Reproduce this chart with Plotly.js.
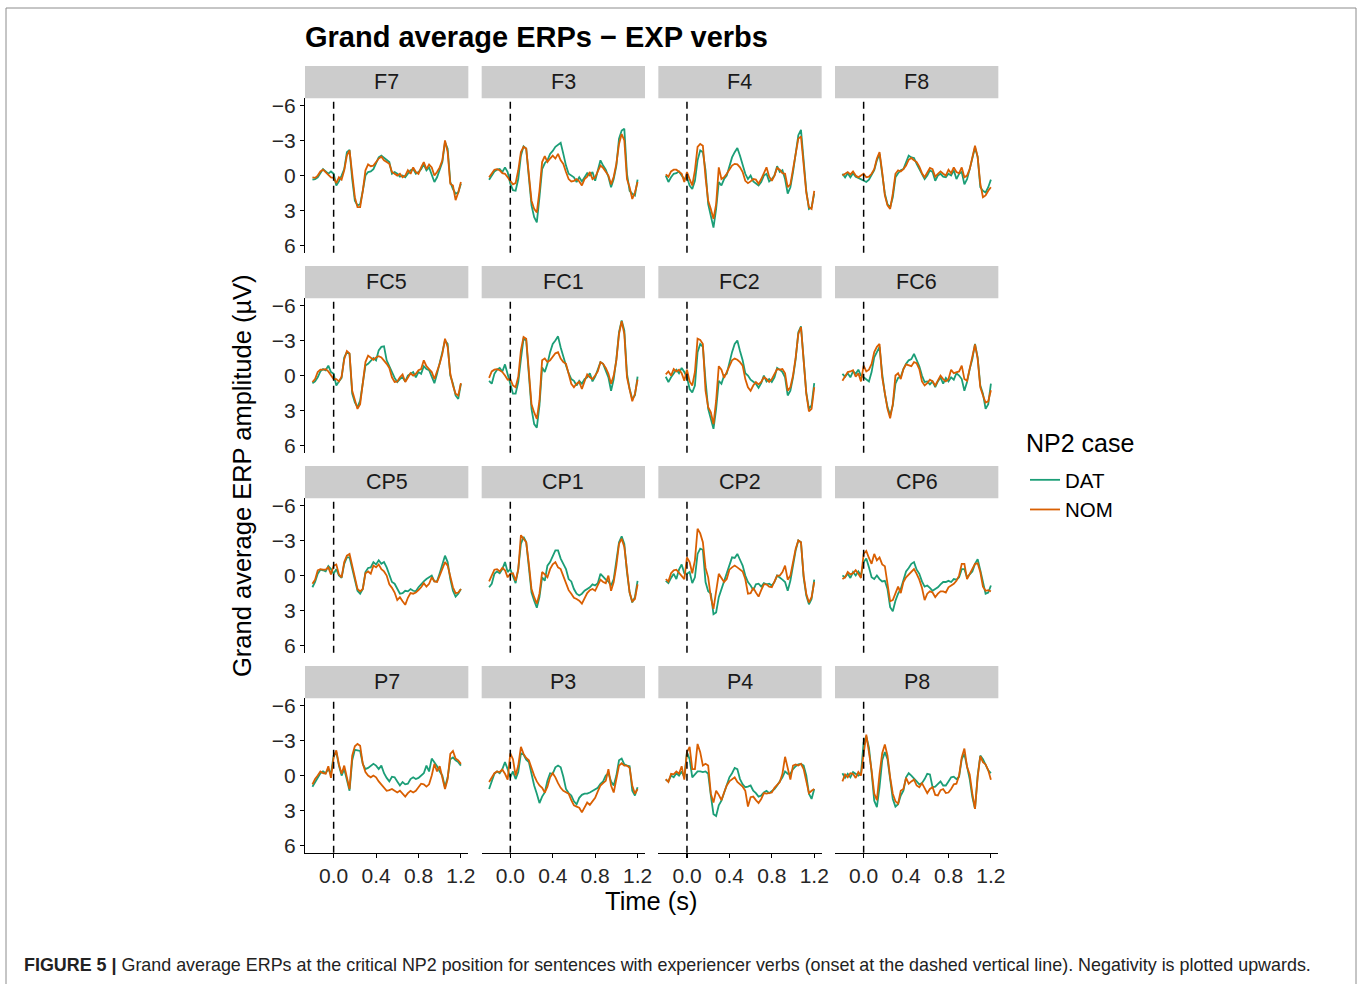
<!DOCTYPE html>
<html>
<head>
<meta charset="utf-8">
<script src="https://cdn.plot.ly/plotly-3.0.1.min.js"></script>
<style>html,body{margin:0;padding:0;background:#fff;}#chart{width:1358px;height:984px;}</style>
</head>
<body>
<div id="chart"></div>
<script>
// ---------------- DATA ----------------
const channels = ["F7","F3","F4","F8","FC5","FC1","FC2","FC6","CP5","CP1","CP2","CP6","P7","P3","P4","P8"];
const seriesNames = ["DAT","NOM"];
const legendTitle = "NP2 case";
const onset = 0;
const time = [-0.2,-0.175,-0.15,-0.125,-0.1,-0.075,-0.05,-0.025,0,0.025,0.05,0.075,0.1,0.125,0.15,0.175,0.2,0.225,0.25,0.275,0.3,0.325,0.35,0.375,0.4,0.425,0.45,0.475,0.5,0.525,0.55,0.575,0.6,0.625,0.65,0.675,0.7,0.725,0.75,0.775,0.8,0.825,0.85,0.875,0.9,0.925,0.95,0.975,1,1.025,1.05,1.075,1.1,1.125,1.15,1.175,1.2];
const yTickVals = [-6,-3,0,3,6];
const xTickVals = [0,0.4,0.8,1.2];
const xTickText = ["0.0","0.4","0.8","1.2"];

const F7_DAT = [0.35,0.3,0.15,-0.15,-0.55,-0.35,-0.15,-0.35,-0.15,0.85,0.5,0,-0.55,-2.0,-2.2,0.3,2.15,2.55,2.45,1.3,0,-0.3,-0.35,-0.55,-1.0,-1.55,-1.7,-1.5,-1.3,-1.15,-0.15,-0.3,-0.15,0.1,0,0.15,-0.15,-0.45,-0.55,-0.15,-0.3,-0.55,-0.95,-0.45,-0.7,-0.15,0.55,0.15,-0.55,-1.15,-2.85,-2.3,0.55,1.15,1.55,1.45,0.7];
const F7_NOM = [0.15,0.2,0,-0.35,-0.5,-0.3,-0.05,0.15,0.2,0.65,0.15,0.35,-0.45,-1.7,-2.15,0.15,1.85,2.7,2.7,1.3,-0.45,-0.95,-0.8,-0.85,-1.15,-1.45,-1.6,-1.3,-1.15,-1.0,-0.3,-0.15,0,-0.15,0.15,0,-0.45,-0.15,-0.7,-0.3,-0.15,-0.7,-1.15,-0.55,-0.95,-0.7,0,-0.3,-0.7,-1.3,-3.0,-2.0,0.7,0.85,2.1,1.45,0.55];
const F3_DAT = [0.35,0,-0.35,-0.5,-0.55,-0.3,-0.7,-0.3,0.7,1.25,1.3,0.3,-1.7,-2.5,-2.3,0.15,2.55,3.55,4.0,1.85,-0.55,-1.05,-1.3,-1.85,-2.1,-2.45,-2.65,-2.8,-1.85,-0.85,-0.15,0,0.15,0.55,0.15,0.5,0.1,-0.2,0,-0.3,0.45,-0.55,-1.3,-0.85,-0.5,0.1,1.0,0.3,-0.85,-3.15,-3.85,-4.0,-0.15,1.3,1.55,1.7,0.35];
const F3_NOM = [0.15,-0.2,-0.5,-0.55,-0.45,-0.2,-0.15,0.15,0.5,0.75,0.65,-0.45,-2.0,-2.45,-2.3,-0.15,2.15,2.85,3.15,1.3,-1.15,-1.65,-1.15,-1.45,-1.7,-1.45,-1.85,-1.3,-1.0,-0.3,0.3,0.5,0.45,0.3,0.5,0.85,0.3,0.1,-0.3,0.3,0.15,-0.35,-0.85,-0.65,-0.35,0,0.75,0.1,-1.0,-2.7,-3.55,-3.0,0.3,1.0,2.0,1.45,0.55];
const F4_DAT = [0,0.55,0.15,-0.15,-0.2,-0.35,0,0.3,0.15,0.85,1.15,0.45,-1.3,-2.15,-2.0,-0.45,2.45,3.4,4.45,2.85,0.55,0.85,0.3,0,-0.7,-1.55,-2.0,-2.35,-1.7,-0.85,-0.15,0.3,0,0.5,0.7,0.85,0.55,0,-0.15,0.5,0.3,0,-0.8,-0.3,-0.45,0.3,1.55,1.0,-0.3,-2.0,-3.45,-3.9,-1.3,1.3,2.85,2.7,1.55];
const F4_NOM = [-0.1,0.1,-0.35,-0.5,-0.5,-0.3,-0.15,0.55,-0.3,0.3,0.85,-0.45,-2.45,-2.7,-2.55,0.15,2.15,2.85,3.7,2.45,-0.7,0.3,0.15,-0.15,-0.5,-0.85,-1.0,-0.95,-0.7,-0.3,0.45,0.65,0.5,0.3,0.35,0.7,0.3,-0.15,-0.7,0.1,0.45,0,-0.65,-0.5,-0.2,-0.15,1.0,0.75,-0.45,-1.7,-3.15,-3.35,-0.7,1.45,2.7,2.85,1.3];
const F8_DAT = [-0.15,0.15,-0.2,0.15,-0.2,0.1,0.2,0.3,0.45,0.55,0.35,0,-0.45,-1.3,-1.85,-0.15,1.55,2.45,2.7,1.85,0.15,-0.2,-0.45,-0.55,-1.15,-1.7,-1.55,-1.5,-1.0,-0.55,-0.15,0.3,0,-0.45,-0.3,0.45,0,-0.15,0.1,0.15,-0.15,0,-0.45,0.3,-0.15,-0.3,0.75,0.3,-0.55,-1.55,-2.4,-1.6,1.0,1.3,1.45,1.0,0.35];
const F8_NOM = [0,-0.15,-0.3,-0.1,-0.35,0,0.15,0,-0.15,0.15,0.1,-0.15,-0.55,-1.45,-2.0,-0.3,1.7,2.55,2.85,1.55,-0.15,-0.45,-0.35,-0.55,-0.85,-1.35,-1.5,-1.3,-1.15,-0.75,-0.2,0.15,-0.2,-0.65,-0.55,0.1,-0.15,-0.35,-0.15,0,-0.5,-0.2,-0.7,-0.3,-0.2,-0.7,0.15,0,-0.55,-1.7,-2.55,-1.6,0.7,1.85,1.7,1.3,1.0];
const FC5_DAT = [0.65,0.5,0.15,-0.35,-0.55,-0.45,-0.85,-0.3,-0.15,0.85,0.5,0.2,-1.55,-2.0,-1.85,1.55,2.3,2.7,2.15,0.55,-0.85,-1.0,-1.3,-1.5,-1.3,-2.15,-2.45,-2.5,-1.3,-0.8,-0.15,0.2,0.55,0.3,0.15,0.5,0,-0.15,-0.3,0.15,-0.3,-0.15,-0.8,-0.55,-0.45,0.1,0.65,-0.15,-1.0,-2.0,-3.0,-2.7,0,0.7,1.7,2.0,0.7];
const FC5_NOM = [0.55,0.3,-0.3,-0.5,-0.5,-0.55,-0.35,0,0.3,0.3,0.5,0.1,-1.4,-2.1,-1.9,1.3,2.1,2.85,2.45,0.7,-1.15,-1.7,-1.55,-1.35,-1.55,-1.65,-1.55,-1.3,-1.0,-0.65,0.15,0.55,0.5,0.15,-0.1,0.55,0.15,-0.2,0,-0.15,-0.45,-0.55,-1.3,-0.8,-0.55,-0.3,0.3,-0.3,-1.0,-1.85,-3.15,-2.45,-0.15,0.85,1.55,1.7,0.65];
const FC1_DAT = [0.45,0.7,-0.15,-0.5,-0.65,-0.35,-0.95,-0.15,0.7,1.55,1.55,0.55,-1.4,-3.15,-3.0,0.3,2.85,4.15,4.45,2.55,-0.7,-0.3,-1.0,-2.0,-2.7,-3.0,-3.35,-2.4,-1.55,-0.85,-0.2,0.3,0.45,0.85,0.45,0.7,0.3,0.15,-0.2,0.5,0.1,-0.55,-1.15,-1.0,-0.5,0.15,1.3,0.3,-1.4,-3.7,-4.7,-3.85,-0.15,1.15,2.0,1.7,0.1];
const FC1_NOM = [0.2,-0.35,-0.5,-0.55,-0.45,-0.3,0,0.35,0.3,0.85,1.0,0.1,-2.15,-3.3,-3.15,-0.15,2.45,3.15,3.7,2.15,-1.3,-1.45,-1.15,-1.3,-1.65,-1.9,-2.0,-1.45,-1.15,-1.0,-0.15,0.7,1.0,0.7,0.55,1.15,0.5,-0.1,0.15,0.3,0,-0.35,-1.15,-1.0,-0.65,-0.15,0.7,0,-1.3,-3.55,-4.65,-3.55,0.15,1.3,2.2,1.55,0.35];
const FC2_DAT = [0.1,0.55,0.15,-0.2,-0.5,-0.2,-0.65,-0.3,0.15,1.15,1.45,0.85,-2.0,-2.7,-2.45,0.45,2.85,3.7,4.55,2.85,0.45,0.7,0,-0.15,-1.15,-2.0,-2.7,-3.0,-2.1,-1.3,-0.2,0,0.35,0.5,0.7,1.05,0.65,0,0.5,0.3,0.55,0.15,-0.65,-0.5,-0.3,0.15,1.7,1.3,0.15,-1.4,-3.7,-4.2,-1.7,1.45,2.85,2.55,0.65];
const FC2_NOM = [-0.1,-0.35,0,-0.55,-0.35,-0.5,-0.2,0.45,-0.5,0.5,0.85,-0.3,-3.15,-3.05,-2.7,1.3,2.7,3.15,4.15,2.15,-0.8,-0.5,0.2,-0.35,-0.85,-1.3,-1.45,-1.35,-1.15,-0.85,0.3,1.0,1.3,0.85,0.55,0.75,0.55,0.15,0.3,0.55,0.3,-0.15,-0.55,-0.5,-0.55,-0.2,1.3,1.0,0,-1.55,-3.55,-4.15,-1.45,1.55,3.05,2.85,1.0];
const FC6_DAT = [-0.15,0.1,-0.2,0.15,-0.35,-0.15,-0.5,0,0.15,0.3,0.5,-0.3,-1.55,-2.0,-2.45,-0.15,1.55,2.7,3.4,2.55,0.7,0.2,0.1,-0.55,-1.0,-1.3,-1.4,-1.85,-1.3,-0.8,0,0.55,0.5,0.75,0.5,1.0,0.5,0.15,0.7,0.2,0.5,0.15,0.35,-0.2,0,0.3,1.3,0.55,-0.55,-1.4,-2.7,-1.55,0.85,1.55,2.85,2.45,0.7];
const FC6_NOM = [0.45,0.1,-0.3,-0.35,-0.45,0.1,-0.2,0.5,-0.85,-0.35,-0.5,-1.0,-2.0,-2.45,-2.7,0.15,1.7,2.85,3.65,2.45,0,-0.2,0.3,-0.55,-0.95,-0.85,-0.8,-1.15,-1.05,-0.55,0.5,0.85,0.65,0.35,0.5,0.85,0.35,0,0.3,0.5,0.3,-0.5,-0.2,-0.3,-0.35,-0.85,0.3,0.45,-0.55,-1.55,-2.65,-1.45,1.0,1.7,2.3,2.2,1.25];
const CP5_DAT = [1.0,0.55,-0.15,-0.5,-0.45,-0.35,-0.8,-0.55,-0.15,-0.55,0,0.2,-1.0,-1.55,-1.55,-0.55,0.3,1.3,1.55,1.15,-0.3,-0.65,-0.7,-1.15,-0.95,-1.3,-1.0,-1.15,-0.7,0,0.55,0.7,1.15,1.55,1.5,1.3,1.35,1.15,1.3,1.35,1.0,0.7,0.5,0.3,0.15,0,0.5,0.5,-0.2,-1.0,-1.7,-1.15,0.3,1.3,1.8,1.55,1.15];
const CP5_NOM = [0.7,0.35,-0.45,-0.55,-0.5,-0.5,-0.7,-0.1,-0.85,-0.95,-0.1,0.15,-1.15,-1.7,-1.85,-0.85,0.15,1.15,1.35,1.15,-0.2,-0.35,-0.15,-0.85,-0.7,-0.95,-0.55,-0.35,0,0.75,1.05,1.45,2.1,1.85,2.2,2.5,1.9,1.5,1.55,1.45,1.25,1.0,0.65,0.95,0.7,0.15,0.5,0.55,0,-0.65,-1.15,-0.85,0,1.0,1.5,1.45,1.15];
const CP1_DAT = [1.0,0.7,-0.15,-0.35,-0.2,-0.55,-1.15,-0.3,-0.55,0.15,0.65,-0.55,-2.7,-3.3,-2.85,-0.7,1.45,2.15,2.75,1.85,0.15,0.45,-0.85,-1.15,-1.7,-2.15,-2.15,-1.45,-1.0,-0.55,0.3,0.5,1.15,1.55,1.7,1.55,1.3,1.15,1.0,0.75,0.85,0.65,-0.15,0.1,0.35,0.5,0.85,0.3,-1.15,-2.85,-3.35,-2.7,-0.3,1.45,2.3,1.85,0.45];
const CP1_NOM = [0.5,0,-0.5,-0.55,-0.35,-0.65,-0.45,0.15,-0.15,-0.2,0.45,-0.5,-3.45,-3.15,-2.85,-1.0,1.15,1.85,2.4,1.55,-0.3,-0.1,0.15,-0.55,-0.95,-1.15,-0.7,-0.55,0,0.7,1.25,1.55,1.9,2.0,2.15,2.4,2.0,1.5,1.25,1.15,1.3,0.75,0.35,0.55,0.65,0,1.3,0.55,-0.85,-2.7,-3.15,-2.45,-0.3,1.45,2.2,2.0,0.75];
const CP2_DAT = [0.45,0.65,0.2,-0.15,0.3,-0.5,-0.95,-0.2,-0.15,-0.3,0.65,0.15,-1.85,-2.3,-2.2,0.55,1.35,1.55,3.3,3.15,1.85,1.15,0.65,-0.15,-0.85,-1.55,-1.5,-1.85,-1.35,-0.85,0,0.55,0.85,1.25,0.75,0.7,0.95,0.65,0.75,0.7,0.85,0.55,0,0.15,0.35,0.55,1.3,0.45,-1.0,-2.15,-3.0,-2.85,0.15,1.7,2.45,2.0,0.35];
const CP2_NOM = [0.3,0.5,-0.2,-0.45,-0.5,-0.2,0,0.3,-1.55,-1.15,-0.2,-1.3,-4.0,-3.6,-2.85,-0.65,0.15,1.85,2.85,1.45,-0.15,0.2,0.55,0.3,-0.5,-0.7,-0.85,-0.7,-0.5,-0.35,0.3,1.55,1.5,1.05,1.45,1.8,1.25,0.75,0.75,0.95,1.0,0.5,0,0,-0.3,-0.85,0.35,0,-1.15,-2.3,-3.0,-2.85,0,1.55,2.3,1.85,0.55];
const CP6_DAT = [0,0.15,-0.15,0.2,-0.3,0,-0.35,0,-1.15,-1.45,-0.7,0.15,0.3,0,0.3,0.5,0.45,1.15,2.7,3.05,2.15,1.55,1.15,0.3,-0.35,-0.65,-1.0,-1.15,-0.5,-0.15,0.5,0.95,0.85,1.05,1.3,1.15,1.0,0.75,0.55,0.55,0.45,0.55,0.3,0.35,0.15,-0.55,-0.55,0.15,-0.15,-0.35,-1.0,-1.4,-0.45,0.5,1.55,1.45,0.85];
const CP6_NOM = [0.3,0.15,-0.3,-0.1,-0.2,-0.45,-0.15,0.2,-1.85,-2.1,-1.5,-1.0,-1.85,-1.3,-1.55,-0.95,-0.8,0.7,2.2,2.1,1.5,0.95,1.5,0.55,0.15,-0.1,-0.35,-0.55,-0.15,0.35,1.05,2.1,1.55,1.35,1.45,1.85,1.55,1.35,1.35,1.45,1.0,0.85,0.7,0.45,0,-1.0,-1.0,0.3,-0.15,-0.5,-1.0,-1.05,-0.3,0.95,1.3,1.25,1.35];
const P7_DAT = [0.95,0.55,0.15,-0.2,-0.35,-0.2,-0.55,-0.15,-1.7,-2.0,-0.85,0,-0.55,0.5,1.3,-1.3,-2.2,-2.15,-2.1,-1.0,-0.55,-0.65,-0.8,-1.0,-0.85,-0.55,-0.85,-0.2,0.2,0.5,0.1,0.15,0.5,0.85,0.55,0.75,0.7,0.3,0.15,0.3,0.2,0,-0.2,-0.85,-0.35,-1.45,-1.15,-0.8,-0.35,0,1.0,0.15,-1.4,-1.55,-1.3,-1.15,-0.85];
const P7_NOM = [0.75,0.3,0,-0.35,-0.2,-0.15,-0.8,0.2,-1.55,-2.15,-0.95,-0.15,-0.85,0.3,1.15,-1.7,-2.5,-2.7,-2.55,-1.0,-0.3,0,0.15,0,0.15,0.5,0.75,1.05,1.3,1.25,1.15,1.3,1.45,1.3,1.55,1.8,1.5,1.3,1.45,1.3,1.0,0.7,0.75,0.95,0.75,0,-1.0,-0.35,-0.8,0.3,1.15,0.3,-1.85,-2.1,-1.45,-1.3,-1.0];
const P3_DAT = [1.15,0.5,-0.15,-0.35,-0.2,-0.55,-1.15,-0.55,0.15,-0.35,0.3,-0.3,-1.9,-1.8,-1.35,-1.15,-0.15,0.85,1.55,2.35,1.8,1.45,0.45,-0.2,-0.15,-0.7,-0.85,-0.7,0.1,1.15,1.5,1.7,2.2,2.45,1.9,1.65,1.55,1.55,1.45,1.3,1.15,1.05,0.7,0.5,0,-0.2,0.5,0.85,0,-1.3,-1.45,-0.95,-0.85,-0.8,1.3,1.7,1.0];
const P3_NOM = [0.55,0.2,-0.2,-0.35,-0.3,-0.5,-0.15,0.35,-1.9,-1.4,0,-0.85,-2.45,-1.85,-1.5,-1.3,-0.55,0,0.5,0.85,1.05,1.45,0.95,0.15,-0.2,0.15,0.65,1.05,1.3,1.45,1.55,2.1,2.55,2.65,2.75,3.15,2.65,2.3,2.5,2.2,1.9,1.35,0.85,0.65,0.45,-0.55,0.85,1.45,0.15,-0.85,-1.05,-0.85,-0.85,-0.65,0.85,1.55,1.15];
const P4_DAT = [0.35,0.5,0,0.15,-0.2,0,-0.35,0.15,-2.0,-1.4,0.15,-0.15,-0.35,-0.35,-0.3,-0.35,-0.15,1.7,3.3,3.45,2.55,2.15,1.45,0.7,0.15,-0.2,-0.65,-0.55,0.3,0.75,1.0,0.95,0.85,1.3,1.5,1.8,1.7,1.45,1.3,1.5,1.35,1.15,0.85,0.5,0.15,-0.35,-0.15,-0.15,-0.55,-0.8,-0.95,-1.0,-0.85,0,1.55,2.0,1.15];
const P4_NOM = [0.3,0.55,-0.15,-0.1,-0.35,-0.15,-0.8,0.35,-2.0,-2.45,-0.55,-0.55,-2.7,-2.0,-0.85,-1.0,-0.85,1.55,2.3,1.3,1.65,2.1,1.45,0.85,0.5,0.3,0.15,0.55,0.75,0.95,1.3,2.65,1.85,1.8,2.1,2.35,2.0,1.5,1.55,1.5,1.45,1.05,0.75,0.55,-0.15,-1.6,-0.65,0.35,-0.85,-0.95,-0.85,-1.0,-0.55,0.45,1.5,1.3,1.15];
const P8_DAT = [-0.2,0.2,-0.15,0.15,-0.3,-0.15,0,-0.15,-2.85,-3.35,-2.4,-0.3,2.15,2.7,1.0,-1.3,-2.0,-1.4,0.55,2.0,2.65,2.45,1.7,1.3,0.15,-0.2,0,0.3,0.5,0.75,0.65,0.3,-0.15,-0.1,1.0,0.95,0.7,0.5,0.85,0.85,0.5,0.15,0.1,0.3,0.1,-1.4,-1.85,-0.65,0.3,1.85,2.85,0,-1.7,-1.4,-0.85,-0.45,-0.2];
const P8_NOM = [0.5,-0.1,0.15,-0.2,-0.15,0.2,-0.3,0,-1.85,-3.5,-2.0,-0.45,1.55,2.1,-0.15,-1.9,-2.65,-1.7,0.15,1.55,2.2,2.4,1.3,1.15,0.2,0.7,0.5,0.35,0.85,1.0,0.65,1.15,1.5,1.15,1.0,1.65,1.7,1.25,1.15,1.5,1.45,1.15,0.75,0.7,0,-1.55,-2.3,-0.75,-0.1,1.55,2.85,0.15,-1.65,-1.15,-0.95,-0.45,0.35];

const dataDAT = [F7_DAT,F3_DAT,F4_DAT,F8_DAT,FC5_DAT,FC1_DAT,FC2_DAT,FC6_DAT,CP5_DAT,CP1_DAT,CP2_DAT,CP6_DAT,P7_DAT,P3_DAT,P4_DAT,P8_DAT];
const dataNOM = [F7_NOM,F3_NOM,F4_NOM,F8_NOM,FC5_NOM,FC1_NOM,FC2_NOM,FC6_NOM,CP5_NOM,CP1_NOM,CP2_NOM,CP6_NOM,P7_NOM,P3_NOM,P4_NOM,P8_NOM];

// ---------------- LAYOUT ----------------
const W = 1358, H = 984;
const px = x => x / W, py = y => 1 - y / H;
const FONT = "Liberation Sans, Arial, Helvetica, sans-serif";
const colors = {DAT: "#1B9E77", NOM: "#D95F02"};
const colLeft = [305, 481.67, 658.33, 835], panelW = 163.33;
const rowTop = [66, 266, 466, 666], stripH = 32.3, plotH = 154.5;

const traces = [];
const layout = {
  width: W, height: H, autosize: false,
  margin: {l: 0, r: 0, t: 0, b: 0},
  paper_bgcolor: "#fff", plot_bgcolor: "#fff",
  font: {family: FONT, color: "#000"},
  showlegend: true,
  legend: {
    x: px(1025), y: py(460), xanchor: "left", yanchor: "top",
    font: {size: 20.5, family: FONT, color: "#000"},
    bgcolor: "rgba(0,0,0,0)", itemwidth: 30, tracegroupgap: 0
  },
  title: {
    text: "<b>Grand average ERPs \u2212 EXP verbs</b>",
    x: px(305), xanchor: "left", xref: "paper",
    y: py(37), yanchor: "middle", yref: "paper",
    font: {size: 29, family: FONT, color: "#000"}
  },
  shapes: [],
  annotations: []
};

// outer figure frame
layout.shapes.push({type: "rect", xref: "paper", yref: "paper", x0: px(6), x1: px(1356), y0: py(995), y1: py(8),
  line: {color: "#8c8c8c", width: 1}, fillcolor: "rgba(0,0,0,0)", layer: "below"});

channels.forEach((ch, k) => {
  const r = Math.floor(k / 4), c = k % 4, n = k + 1;
  const xs = n === 1 ? "" : String(n);
  const x0 = colLeft[c], x1 = colLeft[c] + panelW;
  const yTop = rowTop[r] + stripH, yBot = yTop + plotH;
  const isLeft = c === 0, isBottom = r === 3;

  layout["xaxis" + xs] = {
    domain: [px(x0), px(x1)], anchor: "y" + xs, range: [-0.27, 1.27],
    showgrid: false, zeroline: false,
    tickmode: "array", tickvals: xTickVals, ticktext: xTickText,
    showline: isBottom, linecolor: "#000", linewidth: 1.1,
    ticks: isBottom ? "outside" : "", ticklen: 4, tickwidth: 1.1, tickcolor: "#000",
    showticklabels: isBottom, tickfont: {size: 21, family: FONT, color: "#262626"}
  };
  layout["yaxis" + xs] = {
    domain: [py(yBot), py(yTop)], anchor: "x" + xs, range: [6.6, -6.6],
    showgrid: false, zeroline: false,
    tickmode: "array", tickvals: yTickVals,
    showline: isLeft, linecolor: "#000", linewidth: 1.1,
    ticks: isLeft ? "outside" : "", ticklen: 4, tickwidth: 1.1, tickcolor: "#000",
    showticklabels: isLeft, tickfont: {size: 21, family: FONT, color: "#262626"}
  };

  // facet strip
  layout.shapes.push({type: "rect", xref: "paper", yref: "paper",
    x0: px(x0), x1: px(x1), y0: py(rowTop[r] + stripH), y1: py(rowTop[r]),
    fillcolor: "#cccccc", line: {width: 0}, layer: "below"});
  layout.annotations.push({text: ch, xref: "paper", yref: "paper",
    x: px((x0 + x1) / 2), y: py(rowTop[r] + stripH / 2), xanchor: "center", yanchor: "middle",
    showarrow: false, font: {size: 21.5, family: FONT, color: "#1a1a1a"}});

  // onset line
  layout.shapes.push({type: "line", xref: "x" + xs, yref: "y" + xs + " domain",
    x0: onset, x1: onset, y0: 0, y1: 1, line: {color: "#000", width: 1.5, dash: "7px,5px"}});

  traces.push({type: "scatter", mode: "lines", x: time, y: dataDAT[k], xaxis: "x" + xs, yaxis: "y" + xs,
    name: seriesNames[0], legendgroup: "DAT", showlegend: k === 0,
    line: {color: colors.DAT, width: 1.8}, hoverinfo: "skip"});
  traces.push({type: "scatter", mode: "lines", x: time, y: dataNOM[k], xaxis: "x" + xs, yaxis: "y" + xs,
    name: seriesNames[1], legendgroup: "NOM", showlegend: k === 0,
    line: {color: colors.NOM, width: 1.8}, hoverinfo: "skip"});
});

// legend title
layout.annotations.push({text: legendTitle, xref: "paper", yref: "paper",
  x: px(1024), y: py(443), xanchor: "left", yanchor: "middle",
  showarrow: false, font: {size: 25, family: FONT, color: "#000"}});

// axis titles
layout.annotations.push({text: "Grand average ERP amplitude (\u00b5V)", textangle: -90,
  xref: "paper", yref: "paper", x: px(242), y: py(476), xanchor: "center", yanchor: "middle",
  showarrow: false, font: {size: 25.5, family: FONT, color: "#000"}});
layout.annotations.push({text: "Time (s)", xref: "paper", yref: "paper",
  x: px(651.5), y: py(901), xanchor: "center", yanchor: "middle",
  showarrow: false, font: {size: 25.5, family: FONT, color: "#000"}});

// caption
layout.annotations.push({
  text: "<b>FIGURE 5 |</b> Grand average ERPs at the critical NP2 position for sentences with experiencer verbs (onset at the dashed vertical line). Negativity is plotted upwards.",
  xref: "paper", yref: "paper", x: px(22), y: py(965), xanchor: "left", yanchor: "middle",
  showarrow: false, font: {size: 17.9, family: FONT, color: "#222"}});

Plotly.newPlot("chart", traces, layout, {displayModeBar: false, staticPlot: true});
</script>
</body>
</html>
